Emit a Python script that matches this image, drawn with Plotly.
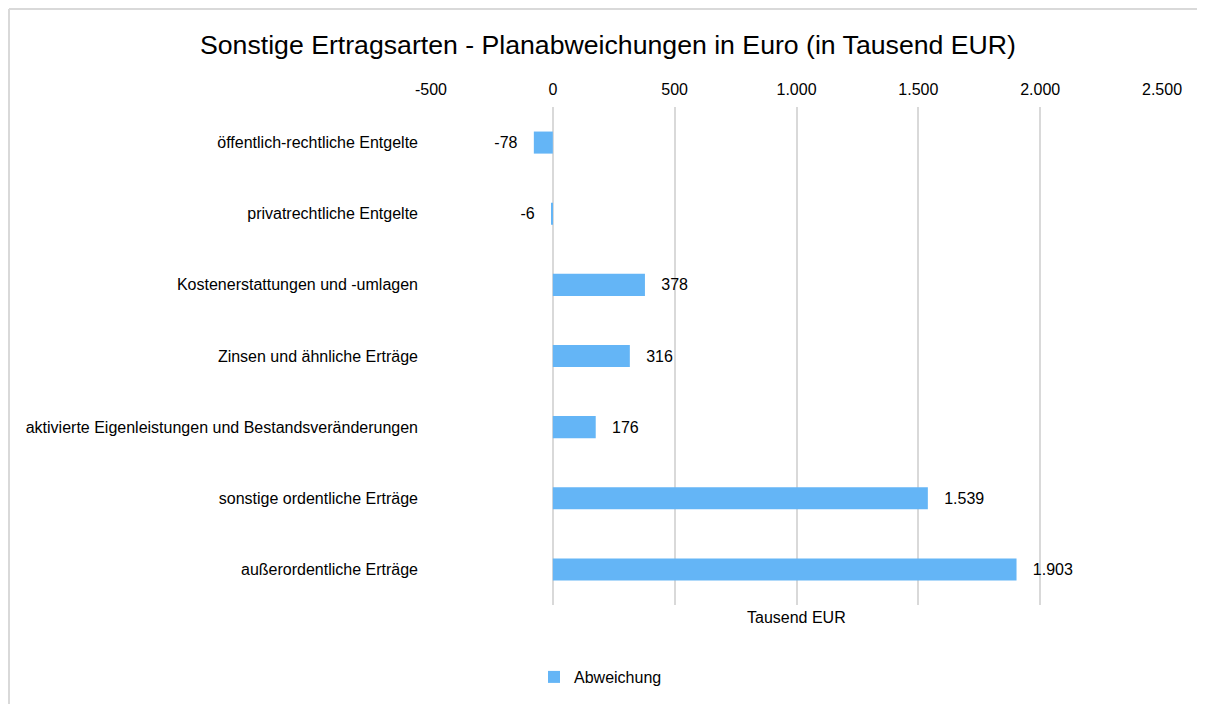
import plotly.graph_objects as go

categories = [
    "öffentlich-rechtliche Entgelte",
    "privatrechtliche Entgelte",
    "Kostenerstattungen und -umlagen",
    "Zinsen und ähnliche Erträge",
    "aktivierte Eigenleistungen und Bestandsveränderungen",
    "sonstige ordentliche Erträge",
    "außerordentliche Erträge",
]
values = [-78, -6, 378, 316, 176, 1539, 1903]
tick_values = [-500, 0, 500, 1000, 1500, 2000, 2500]
tick_labels = ["-500", "0", "500", "1.000", "1.500", "2.000", "2.500"]
series_name = "Abweichung"


def de_fmt(v):
    s = f"{abs(v):,}".replace(",", ".")
    return ("-" if v < 0 else "") + s


pad = "\u00a0\u00a0\u00a0"
labels = [(de_fmt(v) + pad) if v < 0 else (pad + de_fmt(v)) for v in values]

FONT = "Liberation Sans, Arial, sans-serif"
OFF = 8  # page body margin
W, H = 1205 - OFF, 704 - OFF
L = 431 - OFF
PR = 1162 - OFF
T = 107 - OFF
PB = 605 - OFF
R, B = W - PR, H - PB
pw, ph = PR - L, PB - T


def px_x(p):
    return (p - OFF - L) / pw


def px_y(p):
    return (PB - (p - OFF)) / ph


fig = go.Figure()
fig.add_trace(go.Bar(
    x=values, y=categories, orientation="h",
    name=series_name,
    marker=dict(color="#64B5F6", line=dict(width=0)),
    width=0.31,
    text=labels, textposition="outside", cliponaxis=False,
    textfont=dict(size=16, color="#000000", family=FONT),
    showlegend=True,
))

fig.update_layout(
    width=W, height=H,
    margin=dict(l=L, r=R, t=T, b=B, autoexpand=False),
    paper_bgcolor="white", plot_bgcolor="white",
    font=dict(family=FONT, size=16, color="#000000"),
    title=dict(
        text="Sonstige Ertragsarten - Planabweichungen in Euro (in Tausend EUR)",
        x=(608 - OFF) / W, xref="container", xanchor="center",
        y=1 - (45 - OFF) / H, yref="container", yanchor="middle",
        font=dict(size=26.67, family=FONT, color="#000000"),
    ),
    xaxis=dict(
        side="top", range=[-500, 2500],
        tickvals=tick_values, ticktext=tick_labels,
        showgrid=True, gridcolor="#D9D9D9", gridwidth=1.5,
        zeroline=False, showline=False, ticks="",
        ticklabelstandoff=8,
        tickfont=dict(size=16, color="#000000"),
        fixedrange=True,
    ),
    yaxis=dict(
        autorange="reversed", showgrid=False, zeroline=False,
        showline=False, ticks="", ticklabelstandoff=12,
        tickfont=dict(size=16, color="#000000"),
    ),
    showlegend=True,
    legend=dict(
        orientation="h", x=px_x(534), xanchor="left",
        y=px_y(677), yanchor="middle",
        font=dict(size=16, color="#000000"),
        itemwidth=30,
    ),
    bargap=0.69,
)

fig.add_annotation(
    text="Tausend EUR", xref="paper", yref="paper",
    x=0.5, y=px_y(617), xanchor="center", yanchor="middle",
    showarrow=False, font=dict(size=16, color="#000000", family=FONT),
)

# chart border (left and top edges visible)
bx = px_x(OFF + 1)
by = px_y(OFF + 1)
fig.add_shape(type="line", xref="paper", yref="paper",
              x0=bx, x1=bx, y0=by, y1=-1, line=dict(color="#D9D9D9", width=2))
fig.add_shape(type="line", xref="paper", yref="paper",
              x0=bx, x1=2, y0=by, y1=by, line=dict(color="#D9D9D9", width=2))

fig.write_html("out.html")
